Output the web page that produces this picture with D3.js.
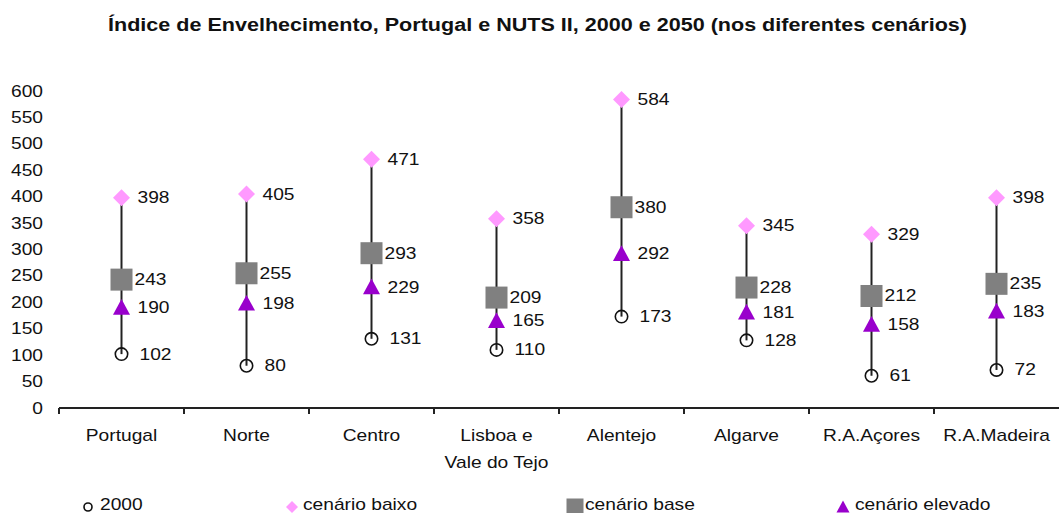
<!DOCTYPE html>
<html>
<head>
<meta charset="utf-8">
<script src="https://cdnjs.cloudflare.com/ajax/libs/d3/7.8.5/d3.min.js"></script>
<style>
    body { margin: 0; background: #fff; }
    text { font-family: "Liberation Sans", Arial, sans-serif; fill: #111; }
</style>
</head>
<body>
<div id="chart-area"></div>
<script>

// Chart data
var categories = ["Portugal", "Norte", "Centro", "Lisboa e Vale do Tejo", "Alentejo", "Algarve", "R.A.Açores", "R.A.Madeira"];
var categoryLines = [["Portugal"], ["Norte"], ["Centro"], ["Lisboa e", "Vale do Tejo"], ["Alentejo"], ["Algarve"], ["R.A.Açores"], ["R.A.Madeira"]];

var values2000 = [102, 80, 131, 110, 173, 128, 61, 72];
var cenarioBaixo = [398, 405, 471, 358, 584, 345, 329, 398];
var cenarioBase = [243, 255, 293, 209, 380, 228, 212, 235];
var cenarioElevado = [190, 198, 229, 165, 292, 181, 158, 183];

var yTicks = [0, 50, 100, 150, 200, 250, 300, 350, 400, 450, 500, 550, 600];

var seriesNames = ["2000", "cenário baixo", "cenário base", "cenário elevado"];
var title = "Índice de Envelhecimento, Portugal e NUTS II, 2000 e 2050 (nos diferentes cenários)";


/*
 * RangeVis - draws the high-low lines with the four markers per region
 */

RangeVis = function(_parentElement){
    this.parentElement = _parentElement;
    this.initVis();
}

RangeVis.prototype.initVis = function(){
    var vis = this;

    vis.width = 1061;
    vis.height = 513;
    vis.sx = 1.2; // the text in the original is a bit wide

    vis.svg = d3.select("#" + vis.parentElement).append("svg")
        .attr("width", vis.width)
        .attr("height", vis.height);

    // Scales
    vis.x = d3.scaleBand()
        .range([59, 1059])
        .domain(categories);

    vis.y = d3.scaleLinear()
        .domain([0, 600])
        .range([408, 91]);

    vis.updateVis();
}

// text with the horizontal stretch
RangeVis.prototype.label = function(g, x, y, str, anchor){
    var vis = this;
    return g.append("text")
        .attr("transform", "translate(" + x + "," + y + ") scale(" + vis.sx + ",1)")
        .attr("text-anchor", anchor || "start")
        .style("font-size", "16px")
        .text(str);
}

RangeVis.prototype.updateVis = function(){
    var vis = this;
    var cx = function(i){ return vis.x(categories[i]) + vis.x.bandwidth() / 2; };

    // Title
    vis.svg.append("text")
        .attr("x", 108)
        .attr("y", 31)
        .attr("textLength", 859)
        .attr("lengthAdjust", "spacingAndGlyphs")
        .style("font-size", "18px")
        .style("font-weight", "bold")
        .text(title);

    // Y labels (no axis line in the original)
    var yAxis = vis.svg.append("g").attr("class", "y-axis");
    yTicks.forEach(function(t){
        vis.label(yAxis, 43, vis.y(t) + 5.5, t, "end");
    });

    // X axis line and ticks between categories
    var xAxis = vis.svg.append("g").attr("class", "x-axis");
    xAxis.append("line")
        .attr("x1", vis.x.range()[0]).attr("x2", vis.x.range()[1])
        .attr("y1", vis.y(0)).attr("y2", vis.y(0))
        .attr("stroke", "#222").attr("stroke-width", 2);

    xAxis.selectAll(".tick")
        .data(categories)
        .enter().append("line")
        .attr("class", "tick")
        .attr("x1", function(d){ return vis.x(d); })
        .attr("x2", function(d){ return vis.x(d); })
        .attr("y1", vis.y(0)).attr("y2", vis.y(0) + 6)
        .attr("stroke", "#222").attr("stroke-width", 2);

    categoryLines.forEach(function(lines, i){
        lines.forEach(function(s, j){
            vis.label(xAxis, cx(i), 441 + j * 27, s, "middle");
        });
    });

    // High-low lines (2000 up to cenario baixo)
    vis.svg.append("g").selectAll(".hl")
        .data(categories)
        .enter().append("line")
        .attr("class", "hl")
        .attr("x1", function(d, i){ return cx(i); })
        .attr("x2", function(d, i){ return cx(i); })
        .attr("y1", function(d, i){ return vis.y(values2000[i]); })
        .attr("y2", function(d, i){ return vis.y(cenarioBaixo[i]); })
        .attr("stroke", "#222")
        .attr("stroke-width", 2);

    // marker shapes
    vis.shapes = {
        circle: function(g, x, y, s){
            g.append("circle").attr("cx", x).attr("cy", y).attr("r", s)
                .attr("fill", "none").attr("stroke", "#111").attr("stroke-width", 1.6);
        },
        diamond: function(g, x, y, s){
            g.append("path")
                .attr("d", "M" + x + "," + (y - s) + "L" + (x + s) + "," + y + "L" + x + "," + (y + s) + "L" + (x - s) + "," + y + "Z")
                .attr("fill", "#ff99ff");
        },
        square: function(g, x, y, s){
            g.append("rect").attr("x", x - s).attr("y", y - s)
                .attr("width", 2 * s).attr("height", 2 * s)
                .attr("fill", "#808080");
        },
        triangle: function(g, x, y, s){
            g.append("path")
                .attr("d", "M" + x + "," + (y - s) + "L" + (x + s) + "," + (y + s * 0.85) + "L" + (x - s) + "," + (y + s * 0.85) + "Z")
                .attr("fill", "#9900cc");
        }
    };

    var series = [
        { values: values2000, shape: "circle", size: 6.2, dx: 18, legendX: 88, legendSize: 4, legendDx: 12 },
        { values: cenarioBaixo, shape: "diamond", size: 8.5, dx: 16, legendX: 292, legendSize: 6, legendDx: 11 },
        { values: cenarioBase, shape: "square", size: 11, dx: 13, legendX: 575, legendSize: 8.5, legendDx: 10 },
        { values: cenarioElevado, shape: "triangle", size: 8.5, dx: 16, legendX: 843, legendSize: 6.5, legendDx: 12 }
    ];

    var marks = vis.svg.append("g").attr("class", "marks");
    series.forEach(function(s){
        s.values.forEach(function(v, i){
            vis.shapes[s.shape](marks, cx(i), vis.y(v), s.size);
            vis.label(marks, cx(i) + s.dx, vis.y(v) + 5.5, v);
        });
    });

    // Legend
    var legend = vis.svg.append("g").attr("class", "legend");
    series.forEach(function(s, k){
        vis.shapes[s.shape](legend, s.legendX, 507, s.legendSize);
        vis.label(legend, s.legendX + s.legendDx, 510, seriesNames[k]);
    });
}

var rangeVis = new RangeVis("chart-area");

</script>
</body>
</html>
